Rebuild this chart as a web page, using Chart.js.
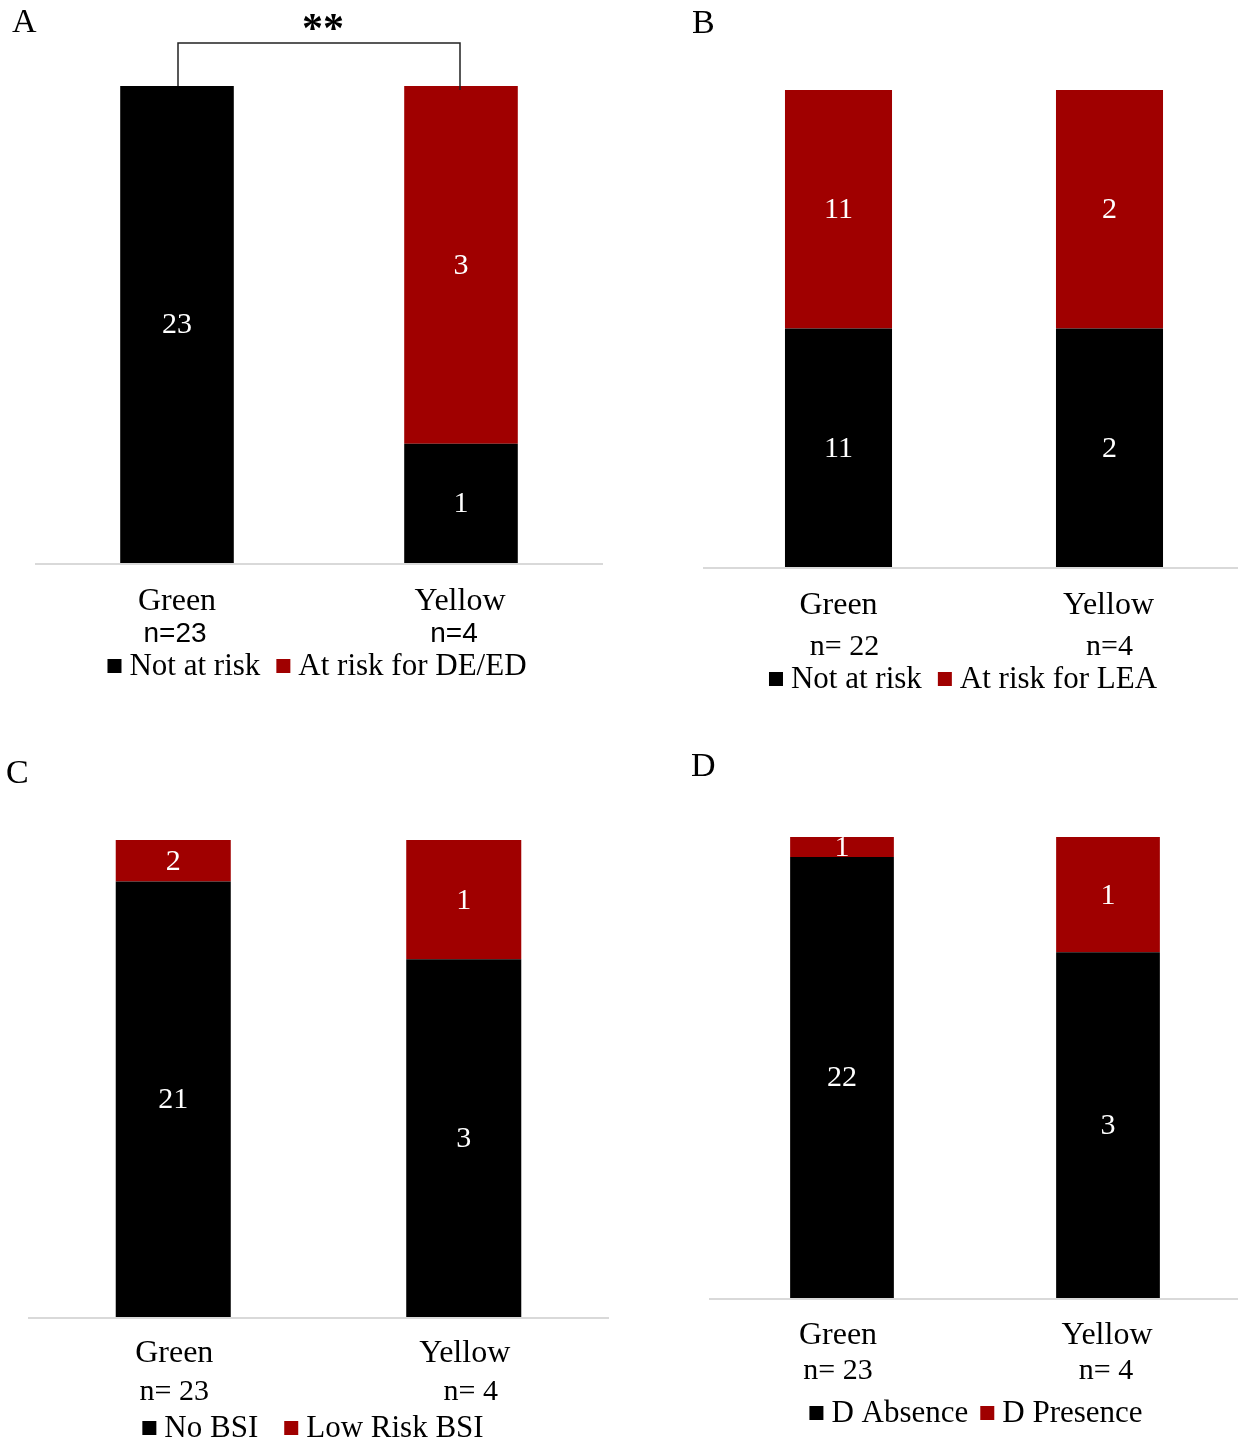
<!DOCTYPE html>
<html>
<head>
<meta charset="utf-8">
<script src="https://cdn.jsdelivr.net/npm/chart.js@4.4.1/dist/chart.umd.min.js"></script>
<style>
  html, body { margin: 0; background: #fff; overflow: hidden; }
  #wrap { position: relative; width: 1238px; height: 1441px; overflow: hidden; }
  canvas { position: absolute; }
</style>
</head>
<body>
<div id="wrap">
  <canvas id="cA" width="619" height="710" style="left:0;top:0"></canvas>
  <canvas id="cB" width="630" height="710" style="left:619px;top:0"></canvas>
  <canvas id="cC" width="619" height="731" style="left:0;top:710px"></canvas>
  <canvas id="cD" width="625" height="731" style="left:619px;top:710px"></canvas>
</div>
<script>
const SERIF = '"Liberation Serif", "Times New Roman", serif';
const SANS = '"Liberation Sans", Arial, sans-serif';
const BLACK = "#000000";
const RED = "#a00000";
const AXIS = "#d9d9d9";

// ---- data ----
const categories = ["Green", "Yellow"];

const aNotAtRisk = [23, 1];
const aAtRisk = [0, 3];
const aNLabels = ["n=23", "n=4"];
const aLegend = ["Not at risk", "At risk for DE/ED"];

const bNotAtRisk = [11, 2];
const bAtRisk = [11, 2];
const bNLabels = ["n= 22", "n=4"];
const bLegend = ["Not at risk", "At risk for LEA"];

const cNoBsi = [21, 3];
const cLowRiskBsi = [2, 1];
const cNLabels = ["n= 23", "n= 4"];
const cLegend = ["No BSI", "Low Risk BSI"];

const dAbsence = [22, 3];
const dPresence = [1, 1];
const dNLabels = ["n= 23", "n= 4"];
const dLegend = ["D Absence", "D Presence"];

// percent of each category total, so every bar fills the full height
const pct = (part, a, b) => part.map((v, i) => (v / (a[i] + b[i])) * 100);

// draws axis line, segment counts, category labels, legend, panel letter
const panelText = {
  id: "panelText",
  afterDatasetsDraw(chart, _args, o) {
    const { ctx, chartArea: ca, scales } = chart;
    const x = scales.x;
    ctx.save();

    ctx.strokeStyle = AXIS;
    ctx.lineWidth = 2;
    ctx.beginPath();
    ctx.moveTo(ca.left, ca.bottom + 1);
    ctx.lineTo(ca.right, ca.bottom + 1);
    ctx.stroke();

    ctx.textAlign = "center";
    ctx.textBaseline = "middle";
    ctx.fillStyle = "#fff";
    ctx.font = `30px ${SERIF}`;
    chart.data.datasets.forEach((ds, di) => {
      chart.getDatasetMeta(di).data.forEach((bar, i) => {
        const c = ds.counts[i];
        if (!c) return;
        ctx.fillText(String(c), bar.x, (bar.y + bar.base) / 2 + 1);
      });
    });

    ctx.fillStyle = "#000";
    chart.data.labels.forEach((lab, i) => {
      const cx = x.getPixelForValue(i);
      ctx.font = `32px ${SERIF}`;
      ctx.fillText(lab, cx + o.catDx[i], ca.bottom + o.catY);
      ctx.font = o.nFont;
      ctx.fillText(o.nLabels[i], cx + o.nDx[i], ca.bottom + o.nY);
    });

    // legend
    ctx.font = `31px ${SERIF}`;
    ctx.textAlign = "left";
    const sq = 14, gapText = 8;
    const widths = o.legend.map((t) => sq + gapText + ctx.measureText(t).width);
    const total = widths.reduce((s, w) => s + w, 0) + o.legendGap;
    let lx = o.legendCx - total / 2;
    const ly = ca.bottom + o.legendY;
    o.legend.forEach((t, i) => {
      ctx.fillStyle = chart.data.datasets[i].backgroundColor;
      ctx.fillRect(lx, ly - 7, sq, sq);
      ctx.fillStyle = "#000";
      ctx.fillText(t, lx + sq + gapText, ly + 1);
      lx += widths[i] + o.legendGap;
    });

    ctx.font = `34px ${SERIF}`;
    ctx.fillText(o.letter, o.letterX, o.letterY);

    if (o.bracket) {
      const x0 = x.getPixelForValue(0) + 1;
      const x1 = x.getPixelForValue(1) - 1;
      const yb = ca.top - 43;
      ctx.strokeStyle = "#222";
      ctx.lineWidth = 1.5;
      ctx.beginPath();
      ctx.moveTo(x0, ca.top);
      ctx.lineTo(x0, yb);
      ctx.lineTo(x1, yb);
      ctx.lineTo(x1, ca.top + 4);
      ctx.stroke();
      ctx.textAlign = "center";
      ctx.font = `bold 42px ${SERIF}`;
      ctx.fillText("**", (x0 + x1) / 2 + 4, yb - 12);
    }
    ctx.restore();
  },
};
Chart.register(panelText);

function panel(id, blackCounts, redCounts, names, padding, barPct, text) {
  return new Chart(document.getElementById(id), {
    type: "bar",
    data: {
      labels: categories,
      datasets: [
        { label: names[0], data: pct(blackCounts, blackCounts, redCounts), counts: blackCounts,
          backgroundColor: BLACK, borderWidth: 0, barPercentage: barPct, categoryPercentage: 1 },
        { label: names[1], data: pct(redCounts, blackCounts, redCounts), counts: redCounts,
          backgroundColor: RED, borderWidth: 0, barPercentage: barPct, categoryPercentage: 1 },
      ],
    },
    options: {
      responsive: false,
      animation: false,
      devicePixelRatio: 1,
      layout: { padding },
      plugins: {
        legend: { display: false },
        tooltip: { enabled: false },
        panelText: { legend: names, ...text },
      },
      scales: {
        x: { stacked: true, display: false },
        y: { stacked: true, display: false, min: 0, max: 100 },
      },
    },
  });
}

panel("cA", aNotAtRisk, aAtRisk, aLegend, { left: 35, right: 16, top: 86, bottom: 147 }, 0.40, {
  nLabels: aNLabels, nFont: `28px ${SANS}`, catDx: [0, -1], nDx: [-2, -7],
  catY: 39, nY: 71, legendY: 103, legendCx: 317, legendGap: 16,
  letter: "A", letterX: 12, letterY: 23, bracket: true,
});

panel("cB", bNotAtRisk, bAtRisk, bLegend, { left: 84, right: 4, top: 90, bottom: 143 }, 0.395, {
  nLabels: bNLabels, nFont: `30px ${SERIF}`, catDx: [0, -1], nDx: [6, 0],
  catY: 39, nY: 80, legendY: 112, legendCx: 963 - 619, legendGap: 16,
  letter: "B", letterX: 692 - 619, letterY: 24, bracket: false,
});

panel("cC", cNoBsi, cLowRiskBsi, cLegend, { left: 28, right: 10, top: 130, bottom: 124 }, 0.396, {
  nLabels: cNLabels, nFont: `30px ${SERIF}`, catDx: [1, 1], nDx: [1, 7],
  catY: 37, nY: 75, legendY: 111, legendCx: 313, legendGap: 26,
  letter: "C", letterX: 6, letterY: 774 - 710, bracket: false,
});

panel("cD", dAbsence, dPresence, dLegend, { left: 90, right: 3, top: 127, bottom: 143 }, 0.39, {
  nLabels: dNLabels, nFont: `30px ${SERIF}`, catDx: [-4, -1], nDx: [-4, -2],
  catY: 38, nY: 73, legendY: 115, legendCx: 976 - 619, legendGap: 12,
  letter: "D", letterX: 691 - 619, letterY: 767 - 710, bracket: false,
});
</script>
</body>
</html>
